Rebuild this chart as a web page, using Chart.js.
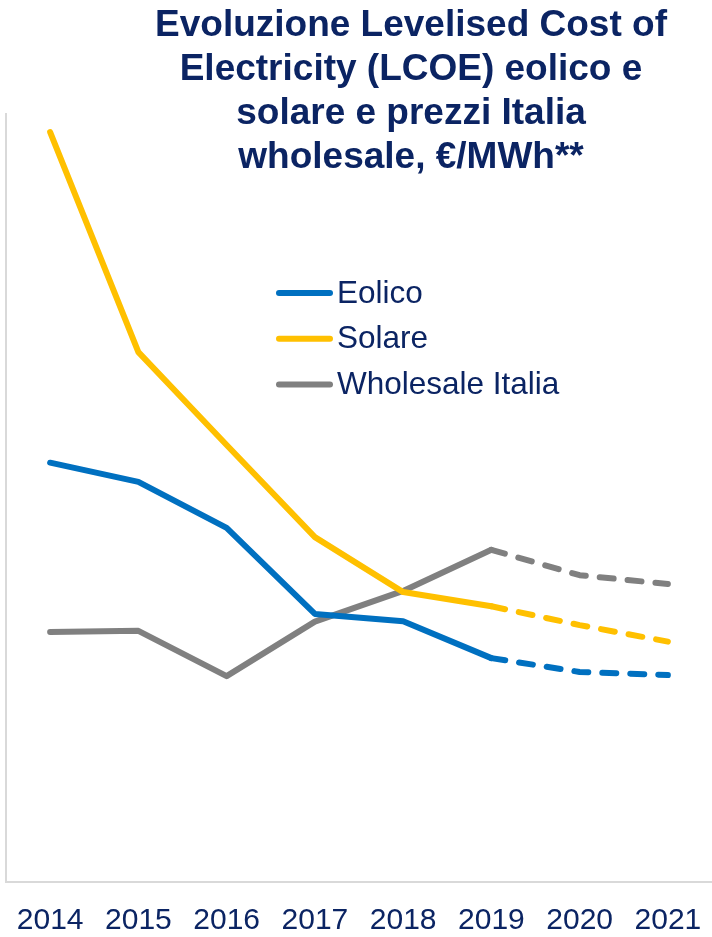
<!DOCTYPE html>
<html>
<head>
<meta charset="utf-8">
<script src="https://cdn.jsdelivr.net/npm/chart.js@4/dist/chart.umd.min.js"></script>
<style>
  html, body { margin: 0; padding: 0; background: #fff; }
  #wrap { width: 712px; height: 937px; position: relative; }
</style>
</head>
<body>
<div id="wrap"><canvas id="lcoeChart"></canvas></div>
<script>
// data (arbitrary €/MWh scale, 0..200)
const years = ["2014", "2015", "2016", "2017", "2018", "2019", "2020", "2021"];
const eolico = [109.2, 104.2, 92.2, 69.8, 67.9, 58.3, 54.7, 53.9];
const solare = [195.3, 138.0, 113.8, 89.8, 75.5, 71.8, 66.9, 62.6];
const wholesale = [65.1, 65.4, 53.6, 67.8, 75.8, 86.5, 79.9, 77.6];
const titleLines = [
  "Evoluzione Levelised Cost of",
  "Electricity (LCOE) eolico e",
  "solare e prezzi Italia",
  "wholesale, €/MWh**"
];
const firstForecast = 5; // from 2019 onwards the lines are dashed

const navy = "#0b2463";
const fontFamily = "'Liberation Sans', Arial, sans-serif";

const dashed = (ctx) => (ctx.p0DataIndex >= firstForecast ? [14, 14] : undefined);

function lineSet(label, values, color) {
  return {
    label: label,
    data: values,
    borderColor: color,
    backgroundColor: color,
    borderWidth: 6,
    borderCapStyle: "round",
    borderJoinStyle: "round",
    pointRadius: 0,
    tension: 0,
    segment: { borderDash: dashed }
  };
}

// title + legend drawn inside the plot, like in the slide
const overlay = {
  id: "overlay",
  afterDraw(chart) {
    const c = chart.ctx;
    c.save();
    c.fillStyle = navy;
    c.textAlign = "center";
    c.textBaseline = "alphabetic";
    c.font = "bold 37px " + fontFamily;
    titleLines.forEach((t, i) => c.fillText(t, 411, 36 + i * 44));

    c.font = "31.5px " + fontFamily;
    c.textAlign = "left";
    c.textBaseline = "middle";
    chart.data.datasets.forEach((ds, i) => {
      const y = 293 + i * 45.8;
      c.strokeStyle = ds.borderColor;
      c.lineWidth = 6;
      c.lineCap = "round";
      c.beginPath();
      c.moveTo(279, y);
      c.lineTo(330, y);
      c.stroke();
      c.fillStyle = navy;
      c.fillText(ds.label, 337, y + 1);
    });
    c.restore();
  }
};

new Chart(document.getElementById("lcoeChart").getContext("2d"), {
  type: "line",
  data: {
    labels: years,
    datasets: [
      lineSet("Eolico", eolico, "#0070C0"),
      lineSet("Solare", solare, "#FFC000"),
      lineSet("Wholesale Italia", wholesale, "#808080")
    ]
  },
  options: {
    responsive: true,
    maintainAspectRatio: false,
    animation: false,
    layout: { padding: { top: 114, left: 5, right: 0, bottom: 0 } },
    plugins: {
      legend: { display: false },
      title: { display: false },
      tooltip: { enabled: false }
    },
    scales: {
      x: {
        offset: true,
        afterFit: (scale) => {
          scale.height = 55;
          scale.paddingLeft = 0;
          scale.paddingRight = 0;
        },
        grid: { display: false, drawTicks: false },
        border: { display: true, color: "#d9d9d9", width: 2 },
        ticks: {
          color: navy,
          padding: 21,
          font: { family: fontFamily, size: 30 }
        }
      },
      y: {
        min: 0,
        max: 200,
        afterFit: (scale) => { scale.width = 1; },
        grid: { display: false, drawTicks: false },
        border: { display: true, color: "#d9d9d9", width: 2 },
        ticks: { display: false }
      }
    }
  },
  plugins: [overlay]
});
</script>
</body>
</html>
